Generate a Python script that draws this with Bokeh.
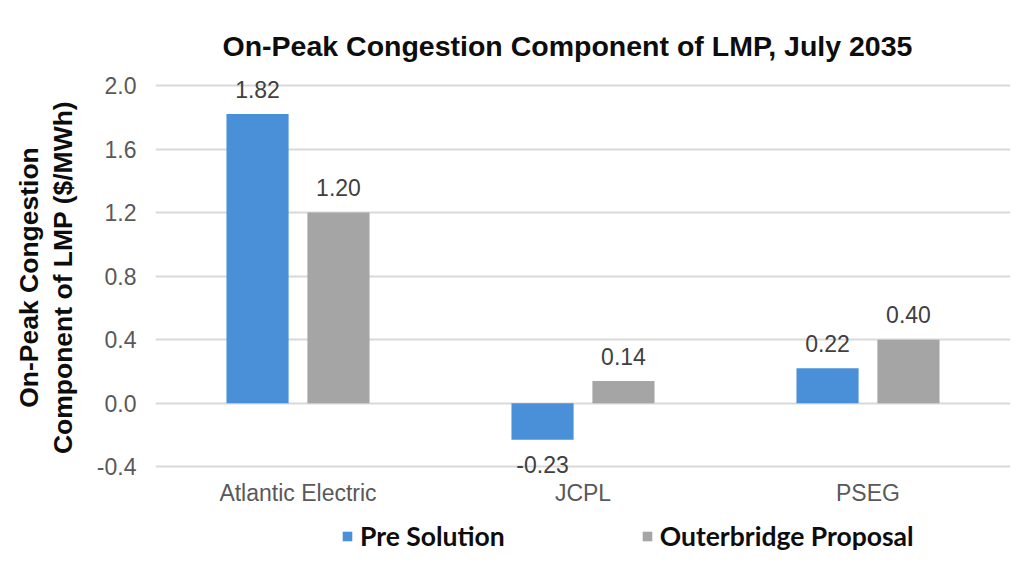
from bokeh.plotting import figure
from bokeh.layouts import column
from bokeh.models import (ColumnDataSource, FactorRange, Range1d, FixedTicker,
                          PrintfTickFormatter, Legend, LegendItem)
from bokeh.transform import dodge
from bokeh.core.properties import value
from bokeh.embed import file_html
from bokeh.resources import INLINE

# ---- data ----
categories = ["Atlantic Electric", "JCPL", "PSEG"]
pre_solution = [1.82, -0.23, 0.22]
outerbridge_proposal = [1.20, 0.14, 0.40]
series_names = ["Pre Solution", "Outerbridge Proposal"]
y_ticks = [-0.4, 0.0, 0.4, 0.8, 1.2, 1.6, 2.0]
title_text = "On-Peak Congestion Component of LMP, July 2035"
y_title = "On-Peak Congestion\nComponent of LMP ($/MWh)"

BLUE = "#4A90D9"
GRAY = "#A5A5A5"
FONT = "Liberation Sans"
W_TOTAL = 1025


def offsets(vals):
    return [-25 if v >= 0 else 25 for v in vals]


src = ColumnDataSource(dict(
    cat=categories,
    pre=pre_solution,
    ob=outerbridge_proposal,
    pre_lbl=[f"{v:.2f}" for v in pre_solution],
    ob_lbl=[f"{v:.2f}" for v in outerbridge_proposal],
    pre_off=offsets(pre_solution),
    ob_off=offsets(outerbridge_proposal),
))

# a little room beyond the outer gridlines so the value labels are not clipped
p = figure(
    x_range=FactorRange(*categories),
    y_range=Range1d(y_ticks[0] - 0.08, y_ticks[-1] + 0.063),
    width=W_TOTAL, height=508,
    output_backend="svg", toolbar_location=None,
    min_border_left=155, min_border_right=15,
    min_border_top=75, min_border_bottom=28,
)
p.x_range.range_padding = 0

p.title.text = title_text
p.title.align = "left"
p.title.offset = 67
p.title.standoff = 27
p.title.text_font = FONT
p.title.text_font_size = "28.5px"
p.title.text_font_style = "bold"
p.title.text_color = "#0d0d0d"

p.outline_line_color = None
p.xgrid.grid_line_color = None
p.ygrid.grid_line_color = "#D9D9D9"
p.ygrid.grid_line_width = 2

# y axis
p.yaxis.ticker = FixedTicker(ticks=y_ticks)
p.yaxis.formatter = PrintfTickFormatter(format="%.1f")
p.yaxis.axis_line_color = None
p.yaxis.major_tick_line_color = None
p.yaxis.minor_tick_line_color = None
p.yaxis.major_tick_out = 0
p.yaxis.major_label_standoff = 19
p.yaxis.major_label_text_font = FONT
p.yaxis.major_label_text_font_size = "23px"
p.yaxis.major_label_text_color = "#595959"
p.yaxis.axis_label = y_title
p.yaxis.axis_label_text_font = FONT
p.yaxis.axis_label_text_font_size = "26.5px"
p.yaxis.axis_label_text_line_height = 1.12
p.yaxis.axis_label_text_font_style = "bold"
p.yaxis.axis_label_text_color = "#0d0d0d"
p.yaxis.axis_label_standoff = 16

# x axis
p.xaxis.axis_line_color = None
p.xaxis.major_tick_line_color = None
p.xaxis.minor_tick_line_color = None
p.xaxis.major_tick_out = 0
p.xaxis.major_label_standoff = 0
p.xaxis.major_label_text_font = FONT
p.xaxis.major_label_text_font_size = "23px"
p.xaxis.major_label_text_color = "#595959"

OFF = 0.142
W = 0.218
r1 = p.vbar(x=dodge("cat", -OFF, range=p.x_range), top="pre", bottom=0, width=W,
            source=src, fill_color=BLUE, line_color=None)
r2 = p.vbar(x=dodge("cat", OFF, range=p.x_range), top="ob", bottom=0, width=W,
            source=src, fill_color=GRAY, line_color=None)

common = dict(text_align="center", text_baseline="middle",
              text_font=value(FONT), text_font_size="23px", text_color="#404040",
              source=src)
p.text(x=dodge("cat", -OFF, range=p.x_range), y="pre", text="pre_lbl",
       y_offset="pre_off", **common)
p.text(x=dodge("cat", OFF, range=p.x_range), y="ob", text="ob_lbl",
       y_offset="ob_off", **common)

# ---- legend strip below the chart ----
LEG_H = 57
q = figure(width=W_TOTAL, height=LEG_H, x_range=Range1d(0, W_TOTAL),
           y_range=Range1d(0, LEG_H), output_backend="svg",
           toolbar_location=None, min_border=0,
           x_axis_location=None, y_axis_location=None)
q.grid.visible = False
q.outline_line_color = None
# zero-size proxy glyphs: they only provide the legend swatches
proxy = ColumnDataSource(dict(x=[0], top=[0]))
k1 = q.vbar(x="x", top="top", width=0, source=proxy, fill_color=BLUE, line_color=None)
k2 = q.vbar(x="x", top="top", width=0, source=proxy, fill_color=GRAY, line_color=None)

legend = Legend(
    items=[LegendItem(label=series_names[0], renderers=[k1]),
           LegendItem(label=series_names[1], renderers=[k2])],
    orientation="horizontal",
    location=(186, 13),
    glyph_width=12, glyph_height=12,
    label_standoff=7, spacing=136,
    label_text_font="Lato", label_text_font_style="bold",
    label_text_font_size="26.5px", label_text_color="#0d0d0d",
    border_line_color=None, background_fill_alpha=0,
    padding=0, margin=0,
)
q.add_layout(legend, "center")

layout = column(p, q, spacing=0)
open("out.html", "w").write(file_html(layout, INLINE))
